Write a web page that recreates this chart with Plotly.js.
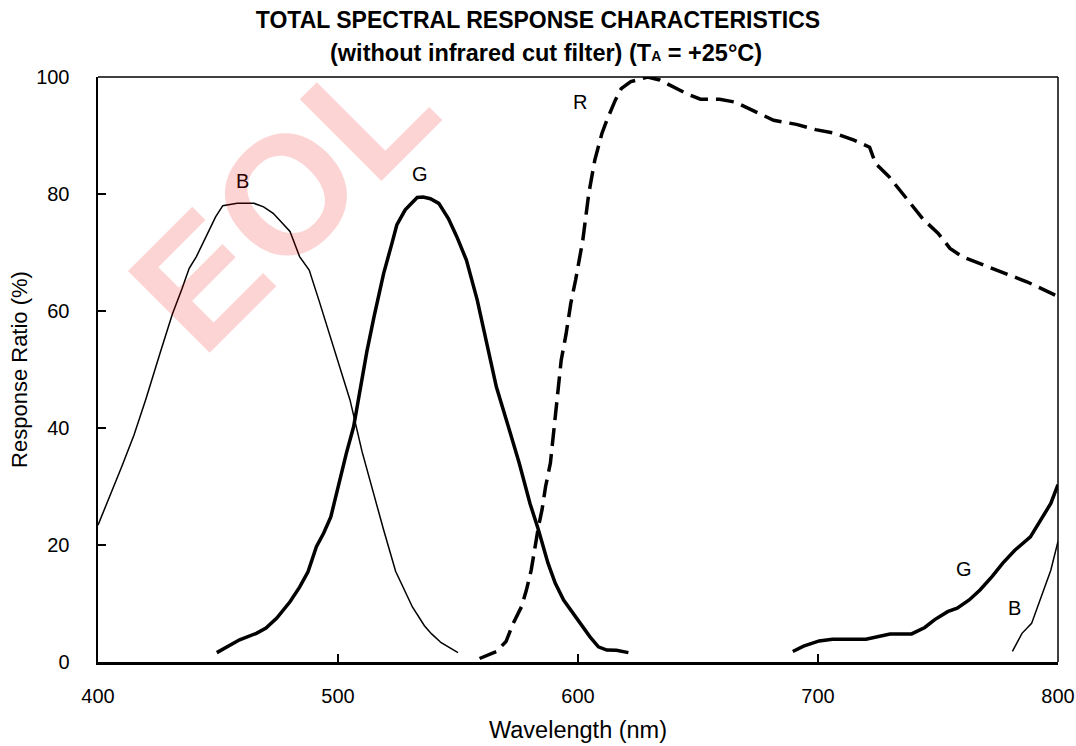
<!DOCTYPE html>
<html>
<head>
<meta charset="utf-8">
<script src="https://cdn.plot.ly/plotly-3.0.1.min.js"></script>
<style>
html, body { margin: 0; padding: 0; background: #fff; }
#chart { width: 1076px; height: 746px; }
</style>
</head>
<body>
<div id="chart"></div>
<script>
// ---- Data ----
var bMainX = [400, 405, 410, 415, 420, 426, 431, 435, 438, 441, 445, 449, 452, 458, 465, 469, 473, 477, 480, 484, 488, 492, 499, 505, 510, 515, 519, 524, 531, 536, 539, 543, 550];
var bMainY = [23.4, 28.4, 33.5, 38.8, 45, 53, 59.5, 63.8, 67.3, 69.3, 72.7, 76.1, 78, 78.4, 78.4, 77.8, 76.7, 75, 73.6, 69.3, 67, 61.9, 52.8, 44.8, 36, 28.5, 22.6, 15.5, 9.4, 6.2, 4.8, 3.3, 1.6];

var bTailX = [781, 785, 789, 793, 797, 800];
var bTailY = [1.8, 4.9, 6.6, 11.2, 15.7, 20.6];

var gMainX = [449.5, 459, 466, 470, 474.5, 480, 484, 487.5, 491, 494, 497, 500, 503.5, 506.5, 509, 512, 515, 519, 522.5, 524.5, 528, 533, 535.5, 538.5, 542, 546, 549.5, 553.5, 558, 562.5, 566, 571, 575.5, 580, 583.5, 587.5, 590.5, 594, 599, 605, 608.5, 612, 616, 621];
var gMainY = [1.6, 3.8, 4.9, 5.8, 7.5, 10.3, 12.8, 15.4, 19.7, 22, 24.8, 30, 35.7, 40.2, 46, 53, 59, 66.4, 71.6, 74.7, 77.3, 79.4, 79.5, 79.2, 78.4, 75.8, 72.7, 68.7, 61.9, 53.3, 47, 40.2, 34, 27.1, 22.6, 16.9, 13.5, 10.6, 7.7, 4.3, 2.6, 2.05, 2.0, 1.6];

var gTailX = [689.5, 694, 700.5, 706, 720, 724.5, 730, 739, 744.5, 748.5, 754, 758, 763, 767.5, 772.5, 777, 782, 788.5, 793, 797, 800];
var gTailY = [1.8, 2.7, 3.6, 3.9, 3.9, 4.3, 4.8, 4.8, 5.9, 7.2, 8.6, 9.2, 10.6, 12.3, 14.6, 16.9, 19.1, 21.4, 24.3, 27.1, 30.3];

var rX = [559, 566, 570, 573, 576.5, 578.5, 580.5, 582, 583.5, 585, 586.5, 588.5, 590, 591.5, 593, 595, 597, 599, 602, 604.5, 607, 610, 612, 615.5, 618, 622, 629, 634, 645, 651, 659, 665.5, 673.5, 681.5, 691, 699, 707, 715, 721.5, 724, 729.5, 737.5, 744, 750, 755, 760, 774, 787, 800];
var rY = [0.6, 1.8, 3.5, 6.6, 9.5, 12.3, 15.7, 19.7, 23.1, 26, 30, 34, 40.2, 45.4, 51.6, 56, 61.3, 65.3, 72.1, 80.1, 85.8, 90.4, 92.6, 96, 98, 99.2, 100, 99.5, 97.2, 96.2, 96.2, 95.7, 94.1, 92.6, 91.9, 91, 90.4, 89.2, 88, 85.2, 83, 79, 75.6, 73.3, 70.7, 69.3, 67, 65, 62.5];

// curve labels
var labelText = ['B', 'G', 'R', 'G', 'B'];
var labelX = [460, 534, 601, 761, 782];
var labelY = [82.2, 83.4, 95.7, 15.9, 9.2];

var xTicks = [400, 500, 600, 700, 800];
var yTicks = [0, 20, 40, 60, 80, 100];

var titleLine1 = 'TOTAL SPECTRAL RESPONSE CHARACTERISTICS';
var titleLine2 = '(without infrared cut filter) (T<span style="font-size:14px">A</span> = +25°C)';
var xTitle = 'Wavelength (nm)';
var yTitle = 'Response Ratio (%)';
var watermark = 'EOL';

// ---- Chart ----
var FONT = 'Liberation Sans, Arial, Helvetica, sans-serif';

var traces = [
  {x: bMainX, y: bMainY, mode: 'lines', line: {color: '#000', width: 1.5}, name: 'B', hoverinfo: 'skip'},
  {x: bTailX, y: bTailY, mode: 'lines', line: {color: '#000', width: 1.5}, name: 'B', hoverinfo: 'skip'},
  {x: gMainX, y: gMainY, mode: 'lines', line: {color: '#000', width: 3.5}, name: 'G', hoverinfo: 'skip'},
  {x: gTailX, y: gTailY, mode: 'lines', line: {color: '#000', width: 3.5}, name: 'G', hoverinfo: 'skip'},
  {x: rX, y: rY, mode: 'lines', line: {color: '#000', width: 3.5, dash: '18px,8px'}, name: 'R', hoverinfo: 'skip'}
];

var annotations = labelText.map(function (t, i) {
  return {x: labelX[i], y: labelY[i], xref: 'x', yref: 'y', text: t, showarrow: false,
          font: {family: FONT, size: 20, color: '#000'}};
});

annotations.push({
  xref: 'paper', yref: 'paper', x: 0.4667, y: 1.041, xanchor: 'center', yanchor: 'middle',
  text: '<b>' + titleLine2 + '</b>', showarrow: false,
  font: {family: FONT, size: 23.5, color: '#000'}
});

annotations.push({
  xref: 'paper', yref: 'paper', x: 0.192, y: 0.794, xanchor: 'center', yanchor: 'middle',
  text: '<b>' + watermark + '</b>', showarrow: false, textangle: -45,
  font: {family: FONT, size: 168, color: 'rgba(245,0,0,0.17)'}
});

var layout = {
  width: 1076, height: 746,
  paper_bgcolor: '#fff', plot_bgcolor: '#fff',
  margin: {l: 98, r: 18, t: 77, b: 84},
  showlegend: false,
  title: {
    text: '<b>' + titleLine1 + '</b>',
    font: {family: FONT, size: 23, color: '#000'},
    x: 0.5, xref: 'container', xanchor: 'center',
    y: 1 - 20 / 746, yref: 'container', yanchor: 'middle'
  },
  xaxis: {
    range: [400, 800], tickvals: xTicks, ticktext: xTicks.map(String),
    showgrid: false, zeroline: false,
    showline: true, linecolor: '#000', linewidth: 3,
    ticks: 'inside', ticklen: 8, tickwidth: 1.5, tickcolor: '#000',
    tickfont: {family: FONT, size: 20, color: '#000'},
    ticklabelstandoff: 14,
    title: {text: xTitle, font: {family: FONT, size: 23.5, color: '#000'}, standoff: 16}
  },
  yaxis: {
    range: [0, 100], tickvals: yTicks, ticktext: yTicks.map(String),
    showgrid: false, zeroline: false,
    showline: true, linecolor: '#000', linewidth: 2.5,
    ticks: 'inside', ticklen: 8, tickwidth: 1.5, tickcolor: '#000',
    tickfont: {family: FONT, size: 20, color: '#000'},
    ticklabelstandoff: 22,
    title: {text: yTitle, font: {family: FONT, size: 22, color: '#000'}, standoff: 3}
  },
  shapes: [
    {type: 'line', xref: 'paper', yref: 'paper', x0: 0, x1: 1, y0: 1, y1: 1, line: {color: '#000', width: 1.5}},
    {type: 'line', xref: 'paper', yref: 'paper', x0: 1, x1: 1, y0: 0, y1: 1, line: {color: '#000', width: 1.5}}
  ],
  annotations: annotations
};

Plotly.newPlot('chart', traces, layout, {staticPlot: true, displayModeBar: false});
</script>
</body>
</html>
